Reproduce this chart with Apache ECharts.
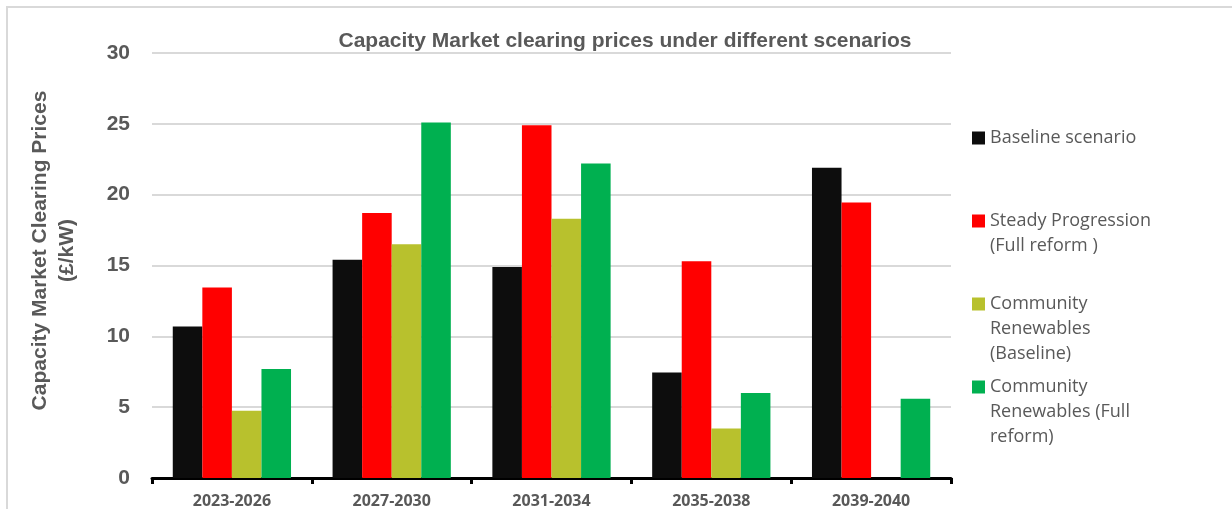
<!DOCTYPE html>
<html>
<head>
<meta charset="utf-8">
<script src="https://cdn.jsdelivr.net/npm/echarts@6/dist/echarts.min.js"></script>
<style>
html,body{margin:0;padding:0;background:#fff;}
#c{width:1232px;height:509px;}
</style>
</head>
<body>
<div id="c"></div>
<script>
const categories = ['2023-2026','2027-2030','2031-2034','2035-2038','2039-2040'];
const seriesNames = [
  'Baseline scenario',
  'Steady Progression\n(Full reform )',
  'Community\nRenewables\n(Baseline)',
  'Community\nRenewables (Full\nreform)'
];
const baseline = [10.7, 15.4, 14.9, 7.45, 21.9];
const steadyProgression = [13.45, 18.7, 24.9, 15.3, 19.45];
const communityBaseline = [4.75, 16.5, 18.3, 3.5, null];
const communityFullReform = [7.7, 25.1, 22.2, 6.0, 5.6];
const yTicks = [0, 5, 10, 15, 20, 25, 30];

const colors = ['#0d0d0d', '#ff0000', '#b8c12d', '#00b050'];
const values = [baseline, steadyProgression, communityBaseline, communityFullReform];

// legend icon centre rows (px) for each entry
const legendCenters = [138, 221, 304, 387];
const LH = 25;
const legends = seriesNames.map((name, i) => {
  const lines = name.split('\n').length;
  const H = lines * LH;
  return {
    orient: 'vertical',
    left: 972,
    top: legendCenters[i] - (2 * H - LH) / 2,
    padding: 0,
    itemWidth: 13,
    itemHeight: 13,
    icon: 'rect',
    selectedMode: false,
    data: [name],
    // blank lines above keep the icon level with the first text line
    formatter: n => '\n'.repeat(n.split('\n').length - 1) + n,
    textStyle: {fontFamily: 'Open Sans', fontSize: 18, color: '#595959', lineHeight: LH}
  };
});

const chart = echarts.init(document.getElementById('c'), null, {renderer: 'canvas'});
chart.setOption({
  animation: false,
  backgroundColor: '#ffffff',
  color: colors,
  graphic: [{
    type: 'rect',
    shape: {x: 7, y: 7, width: 1260, height: 540},
    style: {fill: 'none', stroke: '#d9d9d9', lineWidth: 2},
    silent: true,
    z: -1
  }],
  title: {
    text: 'Capacity Market clearing prices under different scenarios',
    left: 620,
    textAlign: 'center',
    top: 26,
    textStyle: {fontFamily: 'Liberation Sans', fontWeight: 'bold', fontSize: 21, color: '#595959'}
  },
  legend: legends,
  grid: {left: 152, right: 281, top: 53, bottom: 31, containLabel: false, outerBoundsMode: 'none'},
  xAxis: {
    type: 'category',
    data: categories,
    axisLine: {lineStyle: {color: '#000000', width: 3}},
    axisTick: {show: true, length: 6, lineStyle: {color: '#000000', width: 3}},
    axisLabel: {fontFamily: 'Open Sans', fontWeight: 'bold', fontSize: 16, color: '#595959', margin: 15}
  },
  yAxis: {
    type: 'value',
    min: 0, max: 30, interval: 5,
    name: 'Capacity Market Clearing Prices\n(£/kW)',
    nameLocation: 'middle',
    nameRotate: 90,
    nameGap: 71,
    nameTextStyle: {fontFamily: 'Liberation Sans', fontWeight: 'bold', fontSize: 21, color: '#595959', lineHeight: 27,
      padding: [0, 0, 0, 30]},
    axisLine: {show: false},
    axisTick: {show: false},
    axisLabel: {fontFamily: 'Liberation Sans', fontWeight: 'bold', fontSize: 21, color: '#595959', margin: 22,
      formatter: v => yTicks.indexOf(v) >= 0 ? String(v) : ''},
    splitLine: {lineStyle: {color: '#d9d9d9', width: 2}}
  },
  series: values.map((d, i) => ({
    name: seriesNames[i],
    type: 'bar',
    data: d,
    barGap: '0%',
    barCategoryGap: '26%',
    itemStyle: {color: colors[i]}
  }))
});
</script>
</body>
</html>
